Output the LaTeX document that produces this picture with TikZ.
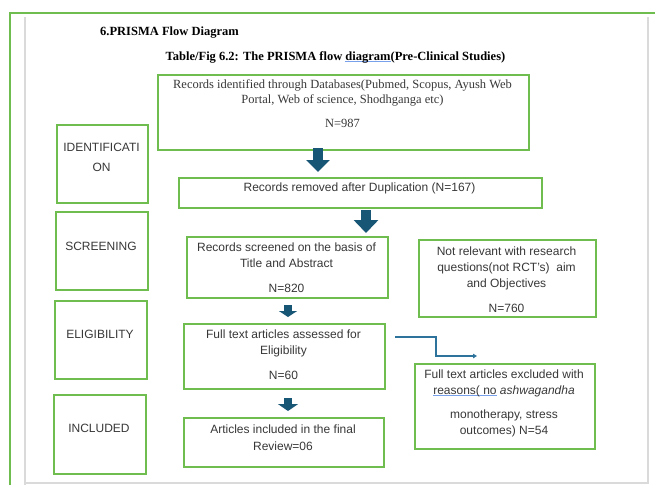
\documentclass[tikz,border=0pt]{standalone}
\usepackage{fontspec}
\setmainfont{Liberation Serif}
\newfontfamily\sansf{Liberation Sans}
\usetikzlibrary{arrows.meta}
\definecolor{boxgreen}{RGB}{110,189,78}
\definecolor{arrowblue}{RGB}{24,86,118}
\definecolor{linkblue}{RGB}{45,115,155}
\definecolor{pagegrey}{RGB}{218,218,218}
\definecolor{txt}{RGB}{55,55,55}
\definecolor{ulblue}{RGB}{120,160,235}
\newlength\myulw
\newcommand\blueul[1]{\settowidth{\myulw}{#1}\rlap{\color{ulblue}\rule[-0.3ex]{\myulw}{0.6pt}}#1}
\begin{document}
\begin{tikzpicture}[x=1pt,y=-1pt,
  box/.style={draw=boxgreen, line width=1.6pt, anchor=north west, inner sep=0pt},
  stxt/.style={text=txt, inner sep=0pt, font=\sansf\fontsize{12}{14}\selectfont},
  rtxt/.style={text=txt, inner sep=0pt, font=\fontsize{12.5}{15}\selectfont},
  ttl/.style={text=black, inner sep=0pt, font=\bfseries\fontsize{12.5}{15}\selectfont},
  blockarrow/.style={draw=arrowblue, line cap=butt},
  link/.style={draw=linkblue, line width=1.2pt, -{Triangle[length=4pt,width=4.5pt]}}]
\useasboundingbox (0,0) rectangle (655,485);
% page frame
\draw[boxgreen, line width=1.6pt] (10,485) -- (10,13) -- (655,13);
\draw[pagegrey, line width=1.2pt] (25,17) -- (25,485);
\draw[pagegrey, line width=1.2pt] (648,17) -- (648,483) -- (25,483);
% titles
\node[ttl, anchor=west] (title1) at (100,33) {6.PRISMA Flow Diagram};
\node[ttl] (title2) at (335.5,57) {Table/Fig 6.2: The PRISMA flow \blueul{diagram}(Pre-Clinical Studies)};
% stage boxes
\node[box, minimum width=91pt, minimum height=78pt] (sid) at (56,124) {};
\node[stxt] (sidt1) at (101.5,147) {IDENTIFICATI};
\node[stxt] (sidt2) at (101.5,167) {ON};
\node[box, minimum width=92pt, minimum height=78pt] (ssc) at (55,211) {};
\node[stxt] (ssct) at (101,246) {SCREENING};
\node[box, minimum width=92pt, minimum height=78pt] (sel) at (54,300) {};
\node[stxt] (selt) at (100,334) {ELIGIBILITY};
\node[box, minimum width=92pt, minimum height=79pt] (sin) at (53,394) {};
\node[stxt] (sint) at (99,428) {INCLUDED};
% flow boxes
\node[box, minimum width=371pt, minimum height=75pt] (b1) at (157,74) {};
\node[rtxt] (b1t1) at (342.5,85) {Records identified through Databases(Pubmed, Scopus, Ayush Web};
\node[rtxt] (b1t2) at (342.5,100) {Portal, Web of science, Shodhganga etc)};
\node[rtxt] (b1t3) at (342.5,123) {N=987};
\node[box, minimum width=363pt, minimum height=30pt] (b2) at (178,177) {};
\node[stxt] (b2t) at (359.5,188) {Records removed after Duplication (N=167)};
\node[box, minimum width=201pt, minimum height=61pt] (b3) at (186,236) {};
\node[stxt] (b3t1) at (286.5,247) {Records screened on the basis of};
\node[stxt] (b3t2) at (286.5,263) {Title and Abstract};
\node[stxt] (b3t3) at (286.5,288) {N=820};
\node[box, minimum width=177pt, minimum height=77pt] (b4) at (418,239) {};
\node[stxt] (b4t1) at (506.5,251) {Not relevant with research};
\node[stxt] (b4t2) at (506.5,268) {questions(not RCT’s)\ \ aim};
\node[stxt] (b4t3) at (506.5,284) {and Objectives};
\node[stxt] (b4t4) at (506.5,308) {N=760};
\node[box, minimum width=201pt, minimum height=65pt] (b5) at (183,323) {};
\node[stxt] (b5t1) at (283.5,334) {Full text articles assessed for};
\node[stxt] (b5t2) at (283.5,351) {Eligibility};
\node[stxt] (b5t3) at (283.5,375) {N=60};
\node[box, minimum width=180pt, minimum height=85pt] (b6) at (414,363) {};
\node[stxt] (b6t1) at (504,374) {Full text articles excluded with};
\node[stxt] (b6t2) at (504,391) {\blueul{reasons(\ no} \textit{ashwagandha}};
\node[stxt] (b6t3) at (504,415) {monotherapy, stress};
\node[stxt] (b6t4) at (504,431) {outcomes) N=54};
\node[box, minimum width=200pt, minimum height=49pt] (b7) at (183,417) {};
\node[stxt] (b7t1) at (283,429) {Articles included in the final};
\node[stxt] (b7t2) at (283,446) {Review=06};
% block arrows
\coordinate (a1s) at (318,148); \coordinate (a1e) at (318,172);
\coordinate (a2s) at (366,210); \coordinate (a2e) at (366,233);
\coordinate (a3s) at (288,305); \coordinate (a3e) at (288,317);
\coordinate (a4s) at (288,398); \coordinate (a4e) at (288,411);
\draw[blockarrow, line width=10pt, -{Triangle[length=12pt,width=23pt]}] (a1s) -- (a1e);
\draw[blockarrow, line width=10pt, -{Triangle[length=13pt,width=24pt]}] (a2s) -- (a2e);
\draw[blockarrow, line width=8pt, -{Triangle[length=6pt,width=18pt]}] (a3s) -- (a3e);
\draw[blockarrow, line width=8pt, -{Triangle[length=7pt,width=20pt]}] (a4s) -- (a4e);
% exclusion connector
\coordinate (e1) at (395,337);
\coordinate (e2) at (477,356);
\draw[link] (e1) -- (436,337) -- (436,356) -- (e2);
\end{tikzpicture}
\end{document}
